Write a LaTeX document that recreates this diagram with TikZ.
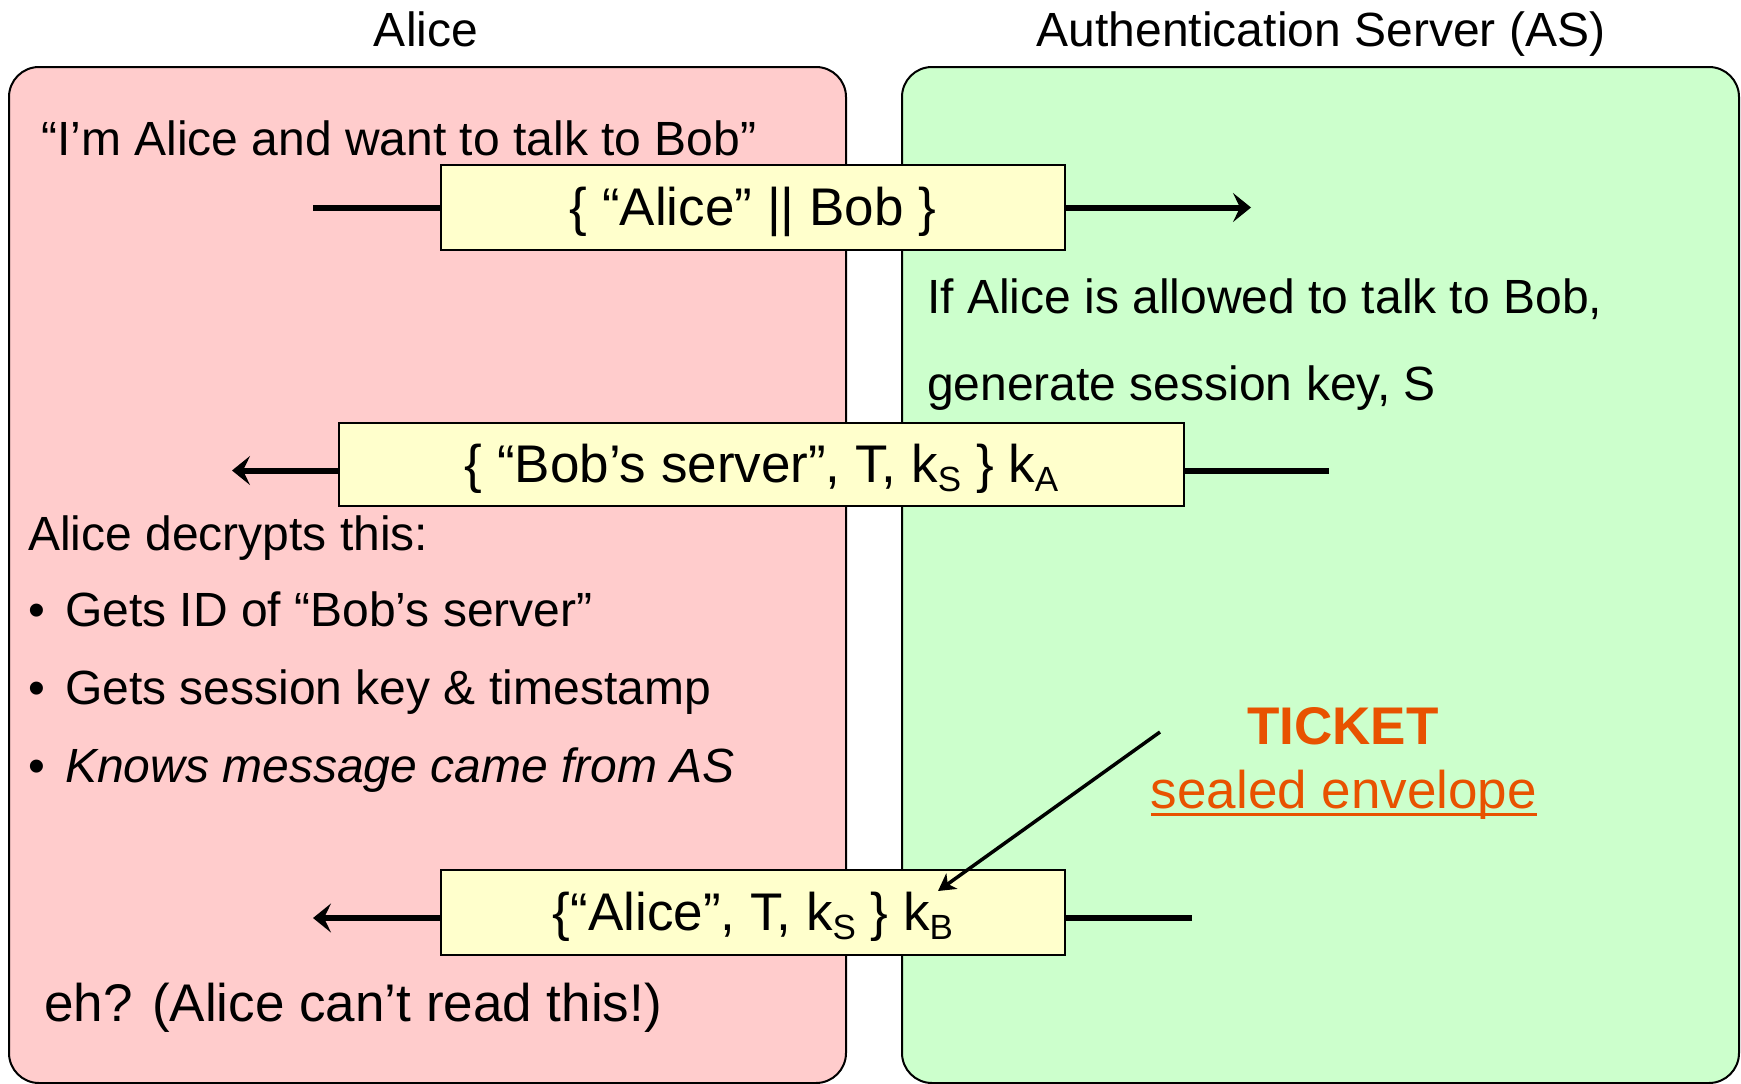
\documentclass[tikz,border=0pt]{standalone}
\usepackage{fontspec}
\setmainfont{Liberation Sans}
\usetikzlibrary{arrows.meta}
\definecolor{pinkbg}{RGB}{255,204,204}
\definecolor{greenbg}{RGB}{204,255,204}
\definecolor{yel}{RGB}{255,255,204}
\definecolor{tick}{RGB}{232,82,0}
\newcommand\msub[1]{\raisebox{-9.5pt}{\fontsize{35}{35}\selectfont #1}}
\begin{document}
\begin{tikzpicture}[x=1pt,y=1pt,
  panel/.style={draw=black,line width=2pt,rounded corners=30pt},
  msg/.style={draw=black,fill=yel,line width=2pt,inner sep=0pt,text height=38pt,text depth=3pt,font=\fontsize{53}{60}\selectfont},
  txt/.style={anchor=base west,inner sep=0pt,font=\fontsize{48}{56}\selectfont},
  ttl/.style={anchor=base,inner sep=0pt,font=\fontsize{48}{56}\selectfont},
  flow/.style={line width=6pt,-{Stealth[length=18pt,width=29pt,inset=7pt]}},
  stub/.style={line width=6pt},
  pointer/.style={line width=3.5pt,-{Stealth[length=17pt,width=19pt,inset=5pt]}},
  ]
\useasboundingbox (0,0) rectangle (1741,-1084);
% panels
\draw[panel,fill=pinkbg] (9,-67) rectangle (846,-1083);
\draw[panel,fill=greenbg] (902,-67) rectangle (1739,-1083);
% titles
\node[ttl] (tA) at (426,-46) {Alice};
\node[ttl] (tS) at (1321,-46) {Authentication Server (AS)};
% free ends
\coordinate (a1s) at (313,-207.5);
\coordinate (a1e) at (1251,-207.5);
\coordinate (a2s) at (1329,-470.5);
\coordinate (a2e) at (232,-470.5);
\coordinate (a3s) at (1192,-918);
\coordinate (a3e) at (313,-918);
\coordinate (tk) at (1160,-732);
\coordinate (tkend) at (938,-891);
% message boxes (placed first so connectors can refer to them)
\node[msg,minimum width=624pt,minimum height=85pt] (m1) at (753,-207.5) {\{ “Alice” || Bob \}};
\node[msg,minimum width=845pt,minimum height=83pt] (m2) at (761.5,-464.5) {\{ “Bob’s server”, T, k\msub{S} \} k\msub{A}};
\node[msg,minimum width=624pt,minimum height=85pt] (m3) at (753,-912.5) {\{“Alice”, T, k\msub{S} \} k\msub{B}};
% connectors
\draw[stub] (a1s) -- (a1s -| m1.west);
\draw[flow] (a1e -| m1.east) -- (a1e);
\draw[stub] (a2s) -- (a2s -| m2.east);
\draw[flow] (a2e -| m2.west) -- (a2e);
\draw[stub] (a3s) -- (a3s -| m3.east);
\draw[flow] (a3e -| m3.west) -- (a3e);
% texts
\node[txt] (t1) at (41,-155) {“I’m Alice and want to talk to Bob”};
\node[txt] (t2) at (927,-313) {If Alice is allowed to talk to Bob,};
\node[txt] (t3) at (927,-400) {generate session key, S};
\node[txt] (t4) at (28,-550) {Alice decrypts this:};
\node[txt] (t5) at (28,-626) {\makebox[37pt][l]{•}Gets ID of “Bob’s server”};
\node[txt] (t6) at (28,-704) {\makebox[37pt][l]{•}Gets session key \& timestamp};
\node[txt] (t7) at (28,-782) {\makebox[37pt][l]{•}\textit{Knows message came from AS}};
\node[txt,font=\fontsize{53}{60}\selectfont] (t8) at (44,-1021) {eh? (Alice can’t read this!)};
\node[ttl,font=\fontsize{53}{60}\selectfont\bfseries,text=tick] (tkt) at (1343,-744) {TICKET};
\node[ttl,font=\fontsize{53}{60}\selectfont,text=tick] (env) at (1344,-808) {sealed envelope};
\draw[tick,line width=3pt] ([yshift=-6.6pt]env.base west) -- ([yshift=-6.6pt]env.base east);
\draw[pointer] (tk) -- (tkend);
\end{tikzpicture}
\end{document}
